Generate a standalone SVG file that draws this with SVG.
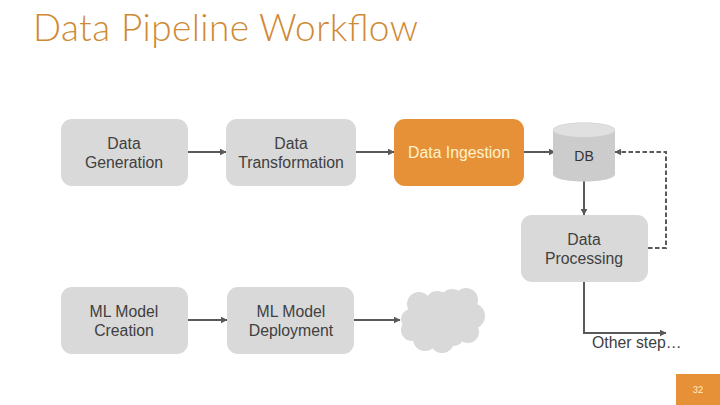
<svg xmlns="http://www.w3.org/2000/svg" width="720" height="405" viewBox="0 0 720 405">
<style>
.box{fill:#d9d9d9}
.t{font-family:"Liberation Sans",Arial,sans-serif;font-size:15.8px;fill:#404040;text-anchor:middle}
.c{fill:none;stroke:#595959;stroke-width:2}
.d{stroke-dasharray:4.5 2.5}
</style>
<defs><marker id="a" markerWidth="3.5" markerHeight="3.5" refX="3.2" refY="1.75" orient="auto" markerUnits="strokeWidth" viewBox="0 0 3.5 3.5"><path d="M0 0L3.5 1.75L0 3.5Z" fill="#595959"/></marker></defs>
<rect width="720" height="405" fill="#fff"/>
<text x="33" y="41" font-family="Lato,sans-serif" font-weight="300" font-size="37" fill="#d08a35" textLength="385" lengthAdjust="spacing">Data Pipeline Workflow</text>
<g id="connectors">
<path class="c" marker-end="url(#a)" d="M188 152H226"/>
<path class="c" marker-end="url(#a)" d="M356 152H394"/>
<path class="c" marker-end="url(#a)" d="M524 152H555"/>
<path class="c" marker-end="url(#a)" d="M584 180V215"/>
<path class="c d" marker-end="url(#a)" d="M648 248H666V152H615"/>
<path class="c" marker-end="url(#a)" d="M584 282V333H666"/>
<path class="c" marker-end="url(#a)" d="M188 320H227"/>
<path class="c" marker-end="url(#a)" d="M354 320H400"/>
</g>
<g id="data-generation"><rect class="box" x="61" y="119" width="127" height="67" rx="11"/><text class="t" x="124" y="149">Data</text><text class="t" x="124" y="168">Generation</text></g>
<g id="data-transformation"><rect class="box" x="226" y="119" width="130" height="67" rx="11"/><text class="t" x="291" y="149">Data</text><text class="t" x="291" y="168">Transformation</text></g>
<g id="data-ingestion"><rect x="394" y="119" width="130" height="67" rx="11" fill="#e69138"/><text class="t" x="459" y="158" style="fill:#fff2cc">Data Ingestion</text></g>
<g id="db"><path d="M553 130C553 120 615 120 615 130V174C615 184 553 184 553 174Z" fill="#cccccc"/><ellipse cx="584" cy="130" rx="31" ry="7" fill="#e0e0e0"/><text class="t" x="584" y="161" style="font-size:14px;fill:#333">DB</text></g>
<g id="data-processing"><rect class="box" x="521" y="215" width="127" height="67" rx="11"/><text class="t" x="584" y="245">Data</text><text class="t" x="584" y="264">Processing</text></g>
<g id="ml-model-creation"><rect class="box" x="61" y="287" width="127" height="67" rx="11"/><text class="t" x="124" y="317">ML Model</text><text class="t" x="124" y="336">Creation</text></g>
<g id="ml-model-deployment"><rect class="box" x="227" y="287" width="127" height="67" rx="11"/><text class="t" x="291" y="317">ML Model</text><text class="t" x="291" y="336">Deployment</text></g>
<g id="cloud" fill="#d9d9d9"><circle cx="419" cy="304" r="12"/><circle cx="437" cy="302" r="11"/><circle cx="452" cy="300" r="11"/><circle cx="466" cy="300" r="12"/><circle cx="472" cy="316" r="13"/><circle cx="468" cy="332" r="11"/><circle cx="454" cy="336" r="10"/><circle cx="442" cy="341" r="12"/><circle cx="425" cy="339" r="12"/><circle cx="412" cy="330" r="11"/><circle cx="411" cy="319" r="10"/><circle cx="442" cy="320" r="28"/></g>
<text x="592" y="348" font-family="'Liberation Sans',Arial,sans-serif" font-size="15.8" fill="#404040">Other step…</text>
<g id="page"><rect x="676" y="374" width="44" height="31" fill="#e69138"/><text x="698" y="393" font-family="Lato,sans-serif" font-size="9" fill="#fff2cc" text-anchor="middle">32</text></g>
</svg>
